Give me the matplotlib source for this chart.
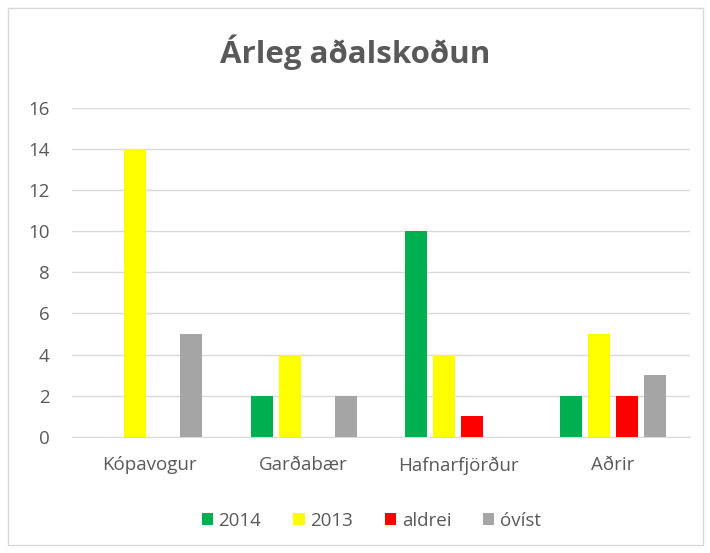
import numpy as np
import matplotlib
matplotlib.use("Agg")
import matplotlib.pyplot as plt
import matplotlib.patches as patches

plt.rcParams["font.family"] = ["Open Sans", "DejaVu Sans"]

categories = ["Kópavogur", "Garðabær", "Hafnarfjörður", "Aðrir"]
series_names = ["2014", "2013", "aldrei", "óvíst"]
v2014 = [0, 2, 10, 2]
v2013 = [14, 4, 4, 5]
aldrei = [0, 0, 1, 2]
ovist = [5, 2, 0, 3]
colors = ["#00B050", "#FFFF00", "#FF0000", "#A5A5A5"]

text_color = "#595959"

fig = plt.figure(figsize=(7.1, 5.53), dpi=100)
ax = fig.add_axes([0.101, 0.21, 0.871, 0.595])

# chart border
fig.patches.append(
    patches.Rectangle(
        (8 / 710, 1 - 545 / 553), 695 / 710, 537 / 553,
        transform=fig.transFigure, fill=False, edgecolor="#D9D9D9", linewidth=1,
    )
)

x = np.arange(len(categories))
step = 0.181
width = 0.142
for i, (vals, name, c) in enumerate(zip([v2014, v2013, aldrei, ovist], series_names, colors)):
    ax.bar(x + (i - 1.5) * step, vals, width=width, color=c, label=name, zorder=3)

ax.set_xlim(-0.5, len(categories) - 0.5)
ax.set_ylim(0, 16)
ax.set_yticks(range(0, 17, 2))
ax.set_xticks(x)
ax.set_xticklabels(categories)
ax.grid(axis="y", color="#D9D9D9", linewidth=1, zorder=0)
for s in ["top", "right", "left"]:
    ax.spines[s].set_visible(False)
ax.spines["bottom"].set_color("#D9D9D9")
ax.tick_params(axis="both", length=0, colors=text_color, labelsize=13.5)
ax.tick_params(axis="y", pad=16)
ax.tick_params(axis="x", pad=14)

fig.text(0.5, 1 - 52 / 553, "Árleg aðalskoðun", ha="center", va="center",
         fontsize=22.5, fontweight="bold", color=text_color)

fig.legend(loc="center", bbox_to_anchor=(0.523, 1 - 521 / 553), ncol=4, frameon=False,
           fontsize=13.5, labelcolor=text_color, handlelength=0.6, handleheight=0.6,
           handletextpad=0.3, columnspacing=1.7)

plt.savefig("out.png", dpi=100)
